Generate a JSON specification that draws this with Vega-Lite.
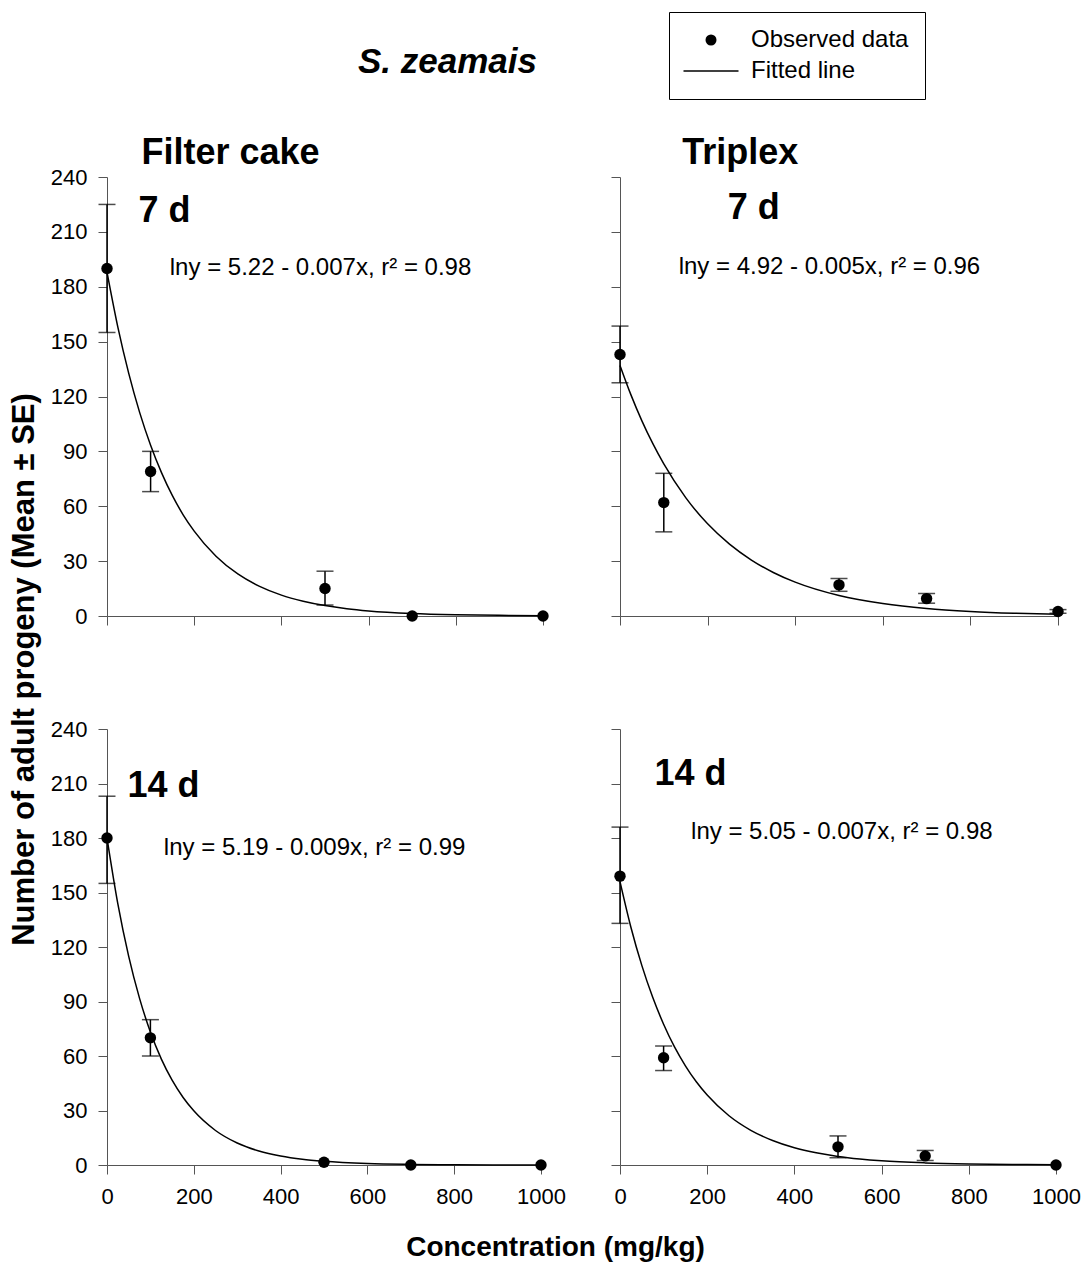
{
  "$schema": "https://vega.github.io/schema/vega-lite/v6.json",
  "background": "white",
  "padding": {"left": 7, "top": 11, "right": 5, "bottom": 5},
  "config": {
    "font": "Liberation Sans",
    "view": {"stroke": null},
    "axis": {
      "grid": false,
      "domainColor": "#555555",
      "tickColor": "#555555",
      "domainWidth": 1,
      "tickWidth": 1,
      "tickSize": 9,
      "labelFont": "Liberation Sans",
      "labelFontSize": 22,
      "labelColor": "black",
      "labelFlush": false,
      "labelPadding": 11,
      "titleFont": "Liberation Sans",
      "titleColor": "black"
    }
  },
  "datasets": {
    "obs": [
      {"panel": "FC7", "conc": 0, "mean": 190, "lo": 155, "hi": 225},
      {"panel": "FC7", "conc": 100, "mean": 79, "lo": 68, "hi": 90},
      {"panel": "FC7", "conc": 500, "mean": 15, "lo": 6, "hi": 24.5},
      {"panel": "FC7", "conc": 700, "mean": 0, "lo": null, "hi": null},
      {"panel": "FC7", "conc": 1000, "mean": 0, "lo": null, "hi": null},
      {"panel": "TR7", "conc": 0, "mean": 143, "lo": 127.5, "hi": 158.5},
      {"panel": "TR7", "conc": 100, "mean": 62, "lo": 46, "hi": 78},
      {"panel": "TR7", "conc": 500, "mean": 17, "lo": 13.5, "hi": 20.5},
      {"panel": "TR7", "conc": 700, "mean": 9.5, "lo": 7, "hi": 12.3},
      {"panel": "TR7", "conc": 1000, "mean": 2.5, "lo": 1.5, "hi": 3.5},
      {"panel": "FC14", "conc": 0, "mean": 180, "lo": 155, "hi": 203},
      {"panel": "FC14", "conc": 100, "mean": 70, "lo": 60, "hi": 80},
      {"panel": "FC14", "conc": 500, "mean": 1.5, "lo": null, "hi": null},
      {"panel": "FC14", "conc": 700, "mean": 0, "lo": null, "hi": null},
      {"panel": "FC14", "conc": 1000, "mean": 0, "lo": null, "hi": null},
      {"panel": "TR14", "conc": 0, "mean": 159, "lo": 133, "hi": 186},
      {"panel": "TR14", "conc": 100, "mean": 59, "lo": 52, "hi": 65.5},
      {"panel": "TR14", "conc": 500, "mean": 10, "lo": 4, "hi": 16},
      {"panel": "TR14", "conc": 700, "mean": 5, "lo": 2.5, "hi": 8},
      {"panel": "TR14", "conc": 1000, "mean": 0, "lo": null, "hi": null}
    ],
    "fit": [
      {"panel": "FC7", "conc": 0, "fit": 188},
      {"panel": "FC7", "conc": 25, "fit": 157.8},
      {"panel": "FC7", "conc": 50, "fit": 132.5},
      {"panel": "FC7", "conc": 75, "fit": 111.2},
      {"panel": "FC7", "conc": 100, "fit": 93.4},
      {"panel": "FC7", "conc": 125, "fit": 78.4},
      {"panel": "FC7", "conc": 150, "fit": 65.8},
      {"panel": "FC7", "conc": 175, "fit": 55.2},
      {"panel": "FC7", "conc": 200, "fit": 46.4},
      {"panel": "FC7", "conc": 250, "fit": 32.7},
      {"panel": "FC7", "conc": 300, "fit": 23.0},
      {"panel": "FC7", "conc": 350, "fit": 16.2},
      {"panel": "FC7", "conc": 400, "fit": 11.4},
      {"panel": "FC7", "conc": 450, "fit": 8.1},
      {"panel": "FC7", "conc": 500, "fit": 5.7},
      {"panel": "FC7", "conc": 550, "fit": 4.0},
      {"panel": "FC7", "conc": 600, "fit": 2.8},
      {"panel": "FC7", "conc": 700, "fit": 1.4},
      {"panel": "FC7", "conc": 800, "fit": 0.7},
      {"panel": "FC7", "conc": 900, "fit": 0.35},
      {"panel": "FC7", "conc": 1000, "fit": 0.17},
      {"panel": "TR7", "conc": 0, "fit": 137},
      {"panel": "TR7", "conc": 25, "fit": 120.9},
      {"panel": "TR7", "conc": 50, "fit": 106.7},
      {"panel": "TR7", "conc": 75, "fit": 94.2},
      {"panel": "TR7", "conc": 100, "fit": 83.1},
      {"panel": "TR7", "conc": 150, "fit": 64.7},
      {"panel": "TR7", "conc": 200, "fit": 50.4},
      {"panel": "TR7", "conc": 250, "fit": 39.3},
      {"panel": "TR7", "conc": 300, "fit": 30.6},
      {"panel": "TR7", "conc": 350, "fit": 23.8},
      {"panel": "TR7", "conc": 400, "fit": 18.5},
      {"panel": "TR7", "conc": 500, "fit": 11.2},
      {"panel": "TR7", "conc": 600, "fit": 6.8},
      {"panel": "TR7", "conc": 700, "fit": 4.1},
      {"panel": "TR7", "conc": 800, "fit": 2.5},
      {"panel": "TR7", "conc": 900, "fit": 1.5},
      {"panel": "TR7", "conc": 1000, "fit": 0.9},
      {"panel": "FC14", "conc": 0, "fit": 180},
      {"panel": "FC14", "conc": 25, "fit": 143.7},
      {"panel": "FC14", "conc": 50, "fit": 114.8},
      {"panel": "FC14", "conc": 75, "fit": 91.7},
      {"panel": "FC14", "conc": 100, "fit": 73.2},
      {"panel": "FC14", "conc": 125, "fit": 58.4},
      {"panel": "FC14", "conc": 150, "fit": 46.7},
      {"panel": "FC14", "conc": 175, "fit": 37.3},
      {"panel": "FC14", "conc": 200, "fit": 29.8},
      {"panel": "FC14", "conc": 250, "fit": 19.0},
      {"panel": "FC14", "conc": 300, "fit": 12.1},
      {"panel": "FC14", "conc": 350, "fit": 7.7},
      {"panel": "FC14", "conc": 400, "fit": 4.9},
      {"panel": "FC14", "conc": 450, "fit": 3.1},
      {"panel": "FC14", "conc": 500, "fit": 2.0},
      {"panel": "FC14", "conc": 600, "fit": 0.8},
      {"panel": "FC14", "conc": 700, "fit": 0.33},
      {"panel": "FC14", "conc": 800, "fit": 0.13},
      {"panel": "FC14", "conc": 1000, "fit": 0.02},
      {"panel": "TR14", "conc": 0, "fit": 156},
      {"panel": "TR14", "conc": 25, "fit": 130.9},
      {"panel": "TR14", "conc": 50, "fit": 109.9},
      {"panel": "TR14", "conc": 75, "fit": 92.3},
      {"panel": "TR14", "conc": 100, "fit": 77.5},
      {"panel": "TR14", "conc": 125, "fit": 65.0},
      {"panel": "TR14", "conc": 150, "fit": 54.6},
      {"panel": "TR14", "conc": 175, "fit": 45.8},
      {"panel": "TR14", "conc": 200, "fit": 38.5},
      {"panel": "TR14", "conc": 250, "fit": 27.1},
      {"panel": "TR14", "conc": 300, "fit": 19.1},
      {"panel": "TR14", "conc": 350, "fit": 13.5},
      {"panel": "TR14", "conc": 400, "fit": 9.5},
      {"panel": "TR14", "conc": 450, "fit": 6.7},
      {"panel": "TR14", "conc": 500, "fit": 4.7},
      {"panel": "TR14", "conc": 550, "fit": 3.3},
      {"panel": "TR14", "conc": 600, "fit": 2.3},
      {"panel": "TR14", "conc": 700, "fit": 1.16},
      {"panel": "TR14", "conc": 800, "fit": 0.58},
      {"panel": "TR14", "conc": 900, "fit": 0.28},
      {"panel": "TR14", "conc": 1000, "fit": 0.14}
    ]
  },
  "columns": 2,
  "spacing": {"row": 113, "column": 77},
  "bounds": "flush",
  "concat": [
    {
      "width": 436,
      "height": 439,
      "layer": [
        {
          "data": {"name": "fit"},
          "transform": [{"filter": "datum.panel === 'FC7'"}],
          "mark": {"type": "line", "color": "black", "strokeWidth": 1.5, "interpolate": "monotone"},
          "encoding": {
            "x": {"field": "conc", "type": "quantitative", "title": null, "scale": {"domain": [0, 1000], "nice": false}, "axis": {"values": [0, 200, 400, 600, 800, 1000], "labels": false, "title": null}},
            "y": {"field": "fit", "type": "quantitative", "title": null, "scale": {"domain": [0, 240], "nice": false}, "axis": {"values": [0, 30, 60, 90, 120, 150, 180, 210, 240], "title": null}}
          }
        },
        {
          "data": {"name": "obs"},
          "transform": [{"filter": "datum.panel === 'FC7'"}],
          "mark": {"type": "rule", "color": "black", "strokeWidth": 1.5},
          "encoding": {
            "x": {"field": "conc", "type": "quantitative", "title": null},
            "y": {"field": "lo", "type": "quantitative", "title": null},
            "y2": {"field": "hi"}
          }
        },
        {
          "data": {"name": "obs"},
          "transform": [{"filter": "datum.panel === 'FC7'"}],
          "mark": {"type": "tick", "orient": "horizontal", "color": "black", "size": 17, "thickness": 1.5},
          "encoding": {
            "x": {"field": "conc", "type": "quantitative", "title": null},
            "y": {"field": "hi", "type": "quantitative", "title": null}
          }
        },
        {
          "data": {"name": "obs"},
          "transform": [{"filter": "datum.panel === 'FC7'"}],
          "mark": {"type": "tick", "orient": "horizontal", "color": "black", "size": 17, "thickness": 1.5},
          "encoding": {
            "x": {"field": "conc", "type": "quantitative", "title": null},
            "y": {"field": "lo", "type": "quantitative", "title": null}
          }
        },
        {
          "data": {"name": "obs"},
          "transform": [{"filter": "datum.panel === 'FC7'"}],
          "mark": {"type": "point", "filled": true, "color": "black", "opacity": 1, "size": 130, "shape": "circle"},
          "encoding": {
            "x": {"field": "conc", "type": "quantitative", "title": null},
            "y": {"field": "mean", "type": "quantitative", "title": null}
          }
        },
        {
          "data": {"values": [{}]},
          "mark": {"type": "text", "text": "S. zeamais", "font": "Liberation Sans", "fontSize": 35, "fontWeight": "bold", "fontStyle": "italic", "align": "center", "baseline": "alphabetic", "color": "black"},
          "encoding": {"x": {"datum": 781, "type": "quantitative"}, "y": {"datum": 297, "type": "quantitative"}}
        },
        {
          "data": {"values": [{}]},
          "mark": {"type": "text", "text": "Filter cake", "font": "Liberation Sans", "fontSize": 36, "fontWeight": "bold", "align": "left", "baseline": "alphabetic", "color": "black"},
          "encoding": {"x": {"datum": 79, "type": "quantitative"}, "y": {"datum": 247, "type": "quantitative"}}
        },
        {
          "data": {"values": [{}]},
          "mark": {"type": "text", "text": "7 d", "font": "Liberation Sans", "fontSize": 36, "fontWeight": "bold", "align": "left", "baseline": "alphabetic", "color": "black"},
          "encoding": {"x": {"datum": 72, "type": "quantitative"}, "y": {"datum": 215.5, "type": "quantitative"}}
        },
        {
          "data": {"values": [{}]},
          "mark": {"type": "text", "text": "lny = 5.22 - 0.007x, r²  = 0.98", "font": "Liberation Sans", "fontSize": 24, "align": "left", "baseline": "alphabetic", "color": "black"},
          "encoding": {"x": {"datum": 144, "type": "quantitative"}, "y": {"datum": 186.5, "type": "quantitative"}}
        }
      ]
    },
    {
      "width": 438,
      "height": 439,
      "layer": [
        {
          "data": {"name": "fit"},
          "transform": [{"filter": "datum.panel === 'TR7'"}],
          "mark": {"type": "line", "color": "black", "strokeWidth": 1.5, "interpolate": "monotone"},
          "encoding": {
            "x": {"field": "conc", "type": "quantitative", "title": null, "scale": {"domain": [0, 1000], "nice": false}, "axis": {"values": [0, 200, 400, 600, 800, 1000], "labels": false, "title": null}},
            "y": {"field": "fit", "type": "quantitative", "title": null, "scale": {"domain": [0, 240], "nice": false}, "axis": {"values": [0, 30, 60, 90, 120, 150, 180, 210, 240], "labels": false, "title": null}}
          }
        },
        {
          "data": {"name": "obs"},
          "transform": [{"filter": "datum.panel === 'TR7'"}],
          "mark": {"type": "rule", "color": "black", "strokeWidth": 1.5},
          "encoding": {
            "x": {"field": "conc", "type": "quantitative", "title": null},
            "y": {"field": "lo", "type": "quantitative", "title": null},
            "y2": {"field": "hi"}
          }
        },
        {
          "data": {"name": "obs"},
          "transform": [{"filter": "datum.panel === 'TR7'"}],
          "mark": {"type": "tick", "orient": "horizontal", "color": "black", "size": 17, "thickness": 1.5},
          "encoding": {
            "x": {"field": "conc", "type": "quantitative", "title": null},
            "y": {"field": "hi", "type": "quantitative", "title": null}
          }
        },
        {
          "data": {"name": "obs"},
          "transform": [{"filter": "datum.panel === 'TR7'"}],
          "mark": {"type": "tick", "orient": "horizontal", "color": "black", "size": 17, "thickness": 1.5},
          "encoding": {
            "x": {"field": "conc", "type": "quantitative", "title": null},
            "y": {"field": "lo", "type": "quantitative", "title": null}
          }
        },
        {
          "data": {"name": "obs"},
          "transform": [{"filter": "datum.panel === 'TR7'"}],
          "mark": {"type": "point", "filled": true, "color": "black", "opacity": 1, "size": 130},
          "encoding": {
            "x": {"field": "conc", "type": "quantitative", "title": null},
            "y": {"field": "mean", "type": "quantitative", "title": null},
            "shape": {
              "datum": "Observed data",
              "scale": {"domain": ["Observed data", "Fitted line"], "range": ["circle", "M-5,-0.12H5V0.12H-5Z"]},
              "legend": {
                "title": null,
                "orient": "none",
                "legendX": 562,
                "legendY": -165,
                "strokeColor": "black",
                "fillColor": "white",
                "padding": 16,
                "labelFont": "Liberation Sans",
                "labelFontSize": 24,
                "labelColor": "black",
                "labelLimit": 400,
                "labelOffset": 28,
                "symbolOffset": 14,
                "symbolSize": 121,
                "symbolStrokeColor": "black",
                "symbolStrokeWidth": 1,
                "symbolFillColor": "black",
                "rowPadding": 7,
                "encode": {"symbols": {"update": {"fill": {"value": "black"}, "stroke": {"value": "black"}, "strokeWidth": {"value": 1}, "opacity": {"value": 1}}}}
              }
            }
          }
        },
        {
          "data": {"values": [{}]},
          "mark": {"type": "text", "text": "Triplex", "font": "Liberation Sans", "fontSize": 36, "fontWeight": "bold", "align": "left", "baseline": "alphabetic", "color": "black"},
          "encoding": {"x": {"datum": 142, "type": "quantitative"}, "y": {"datum": 247, "type": "quantitative"}}
        },
        {
          "data": {"values": [{}]},
          "mark": {"type": "text", "text": "7 d", "font": "Liberation Sans", "fontSize": 36, "fontWeight": "bold", "align": "left", "baseline": "alphabetic", "color": "black"},
          "encoding": {"x": {"datum": 246, "type": "quantitative"}, "y": {"datum": 217, "type": "quantitative"}}
        },
        {
          "data": {"values": [{}]},
          "mark": {"type": "text", "text": "lny = 4.92 - 0.005x, r²  = 0.96", "font": "Liberation Sans", "fontSize": 24, "align": "left", "baseline": "alphabetic", "color": "black"},
          "encoding": {"x": {"datum": 134, "type": "quantitative"}, "y": {"datum": 187, "type": "quantitative"}}
        }
      ]
    },
    {
      "width": 434,
      "height": 436,
      "layer": [
        {
          "data": {"name": "fit"},
          "transform": [{"filter": "datum.panel === 'FC14'"}],
          "mark": {"type": "line", "color": "black", "strokeWidth": 1.5, "interpolate": "monotone"},
          "encoding": {
            "x": {"field": "conc", "type": "quantitative", "scale": {"domain": [0, 1000], "nice": false}, "axis": {"values": [0, 200, 400, 600, 800, 1000], "format": "d", "labelPadding": 12, "title": "Concentration (mg/kg)", "titleFontSize": 28, "titleFontWeight": "bold", "titleX": 448, "titleY": 68, "titleBaseline": "top"}},
            "y": {"field": "fit", "type": "quantitative", "scale": {"domain": [0, 240], "nice": false}, "axis": {"values": [0, 30, 60, 90, 120, 150, 180, 210, 240], "title": "Number of  adult progeny (Mean ±  SE)", "titleFontSize": 31, "titleFontWeight": "bold", "titleX": -67, "titleY": -60}}
          }
        },
        {
          "data": {"name": "obs"},
          "transform": [{"filter": "datum.panel === 'FC14'"}],
          "mark": {"type": "rule", "color": "black", "strokeWidth": 1.5},
          "encoding": {
            "x": {"field": "conc", "type": "quantitative"},
            "y": {"field": "lo", "type": "quantitative"},
            "y2": {"field": "hi"}
          }
        },
        {
          "data": {"name": "obs"},
          "transform": [{"filter": "datum.panel === 'FC14'"}],
          "mark": {"type": "tick", "orient": "horizontal", "color": "black", "size": 17, "thickness": 1.5},
          "encoding": {
            "x": {"field": "conc", "type": "quantitative"},
            "y": {"field": "hi", "type": "quantitative"}
          }
        },
        {
          "data": {"name": "obs"},
          "transform": [{"filter": "datum.panel === 'FC14'"}],
          "mark": {"type": "tick", "orient": "horizontal", "color": "black", "size": 17, "thickness": 1.5},
          "encoding": {
            "x": {"field": "conc", "type": "quantitative"},
            "y": {"field": "lo", "type": "quantitative"}
          }
        },
        {
          "data": {"name": "obs"},
          "transform": [{"filter": "datum.panel === 'FC14'"}],
          "mark": {"type": "point", "filled": true, "color": "black", "opacity": 1, "size": 130, "shape": "circle"},
          "encoding": {
            "x": {"field": "conc", "type": "quantitative"},
            "y": {"field": "mean", "type": "quantitative"}
          }
        },
        {
          "data": {"values": [{}]},
          "mark": {"type": "text", "text": "14 d", "font": "Liberation Sans", "fontSize": 36, "fontWeight": "bold", "align": "left", "baseline": "alphabetic", "color": "black"},
          "encoding": {"x": {"datum": 47, "type": "quantitative"}, "y": {"datum": 202.3, "type": "quantitative"}}
        },
        {
          "data": {"values": [{}]},
          "mark": {"type": "text", "text": "lny = 5.19 - 0.009x, r²  = 0.99", "font": "Liberation Sans", "fontSize": 24, "align": "left", "baseline": "alphabetic", "color": "black"},
          "encoding": {"x": {"datum": 131, "type": "quantitative"}, "y": {"datum": 170.7, "type": "quantitative"}}
        }
      ]
    },
    {
      "width": 436,
      "height": 436,
      "layer": [
        {
          "data": {"name": "fit"},
          "transform": [{"filter": "datum.panel === 'TR14'"}],
          "mark": {"type": "line", "color": "black", "strokeWidth": 1.5, "interpolate": "monotone"},
          "encoding": {
            "x": {"field": "conc", "type": "quantitative", "title": null, "scale": {"domain": [0, 1000], "nice": false}, "axis": {"values": [0, 200, 400, 600, 800, 1000], "format": "d", "labelPadding": 12, "title": null}},
            "y": {"field": "fit", "type": "quantitative", "title": null, "scale": {"domain": [0, 240], "nice": false}, "axis": {"values": [0, 30, 60, 90, 120, 150, 180, 210, 240], "labels": false, "title": null}}
          }
        },
        {
          "data": {"name": "obs"},
          "transform": [{"filter": "datum.panel === 'TR14'"}],
          "mark": {"type": "rule", "color": "black", "strokeWidth": 1.5},
          "encoding": {
            "x": {"field": "conc", "type": "quantitative", "title": null},
            "y": {"field": "lo", "type": "quantitative", "title": null},
            "y2": {"field": "hi"}
          }
        },
        {
          "data": {"name": "obs"},
          "transform": [{"filter": "datum.panel === 'TR14'"}],
          "mark": {"type": "tick", "orient": "horizontal", "color": "black", "size": 17, "thickness": 1.5},
          "encoding": {
            "x": {"field": "conc", "type": "quantitative", "title": null},
            "y": {"field": "hi", "type": "quantitative", "title": null}
          }
        },
        {
          "data": {"name": "obs"},
          "transform": [{"filter": "datum.panel === 'TR14'"}],
          "mark": {"type": "tick", "orient": "horizontal", "color": "black", "size": 17, "thickness": 1.5},
          "encoding": {
            "x": {"field": "conc", "type": "quantitative", "title": null},
            "y": {"field": "lo", "type": "quantitative", "title": null}
          }
        },
        {
          "data": {"name": "obs"},
          "transform": [{"filter": "datum.panel === 'TR14'"}],
          "mark": {"type": "point", "filled": true, "color": "black", "opacity": 1, "size": 130, "shape": "circle"},
          "encoding": {
            "x": {"field": "conc", "type": "quantitative", "title": null},
            "y": {"field": "mean", "type": "quantitative", "title": null}
          }
        },
        {
          "data": {"values": [{}]},
          "mark": {"type": "text", "text": "14 d", "font": "Liberation Sans", "fontSize": 36, "fontWeight": "bold", "align": "left", "baseline": "alphabetic", "color": "black"},
          "encoding": {"x": {"datum": 79, "type": "quantitative"}, "y": {"datum": 208.9, "type": "quantitative"}}
        },
        {
          "data": {"values": [{}]},
          "mark": {"type": "text", "text": "lny = 5.05 - 0.007x, r²  = 0.98", "font": "Liberation Sans", "fontSize": 24, "align": "left", "baseline": "alphabetic", "color": "black"},
          "encoding": {"x": {"datum": 163, "type": "quantitative"}, "y": {"datum": 179.6, "type": "quantitative"}}
        }
      ]
    }
  ]
}
